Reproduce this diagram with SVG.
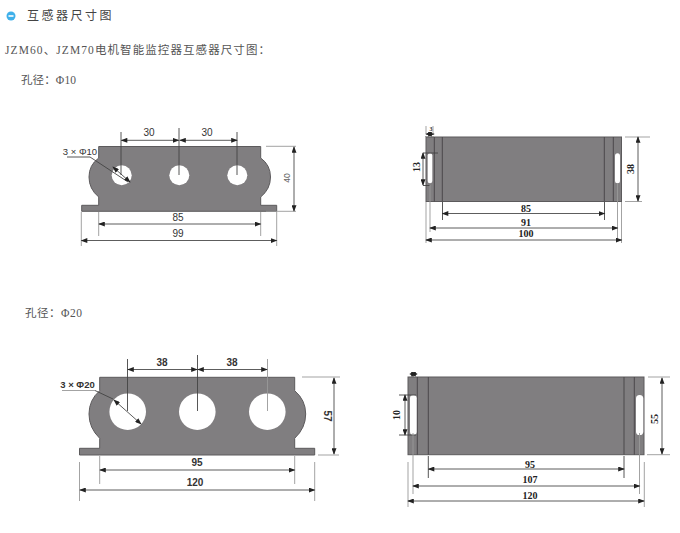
<svg xmlns="http://www.w3.org/2000/svg" width="680" height="533" viewBox="0 0 680 533">
<style>
.body{fill:#807e80;stroke:#5c5a5c;stroke-width:1}
.hole{fill:#fff}
.div{stroke:#4a484a;stroke-width:1;fill:none}
.dim{stroke:#333;stroke-width:.8;fill:none;marker-start:url(#a);marker-end:url(#a)}
.ext{stroke:#444;stroke-width:.9;fill:none}
.extl{stroke:#999;stroke-width:.9;fill:none}
.t{font-family:"Liberation Sans",Arial,sans-serif;font-size:10px;fill:#333;text-anchor:middle}
.b{font-weight:bold}
.s{font-family:"Liberation Serif",serif;font-size:10px;fill:#222;text-anchor:middle;font-weight:bold}
.h{font-family:"Liberation Sans","Noto Sans CJK SC",sans-serif;font-size:12px;fill:#444}
.c{font-family:"Liberation Serif","Noto Sans CJK SC",serif;font-size:11.5px;fill:#555}
</style>
<defs>
<marker id="a" viewBox="0 0 8 6" refX="7" refY="3" markerWidth="7" markerHeight="5" markerUnits="userSpaceOnUse" orient="auto-start-reverse"><path d="M0 0L8 3L0 6Z" fill="#222"/></marker>
</defs>
<g id="heading">
<circle cx="11" cy="16" r="4.5" fill="#3fb0ea"/><rect x="8.500" y="15" width="5" height="2" fill="#d8eefa"/>
<text class="h" x="27" y="20" letter-spacing="2.500">互感器尺寸图</text>
<text class="c" x="5" y="54" textLength="265" lengthAdjust="spacing">JZM60、JZM70电机智能监控器互感器尺寸图：</text>
<text class="c" x="21" y="84" textLength="55" lengthAdjust="spacing">孔径：Φ10</text>
<text class="c" x="25" y="317" textLength="57" lengthAdjust="spacing">孔径：Φ20</text>
</g>
<g id="front-10">
<path class="body" d="M98.700 146.500H260.700V158Q270.500 165 270.500 177T260.700 197V205.300H276.700V211.300H81.700V205.300H98.700V197Q89 189 89 177T98.700 158Z"/>
<circle class="hole" cx="121.700" cy="175.300" r="10"/><circle class="hole" cx="179.300" cy="175.300" r="10"/><circle class="hole" cx="237.300" cy="175.300" r="10"/>
<text class="t" x="149" y="136">30</text><text class="t" x="207" y="136">30</text>
<text class="t" x="80" y="155" style="font-size:9.500px">3 × Φ10</text>
<text class="t" x="178" y="221">85</text><text class="t" x="178" y="237">99</text>
<text class="t" transform="translate(290 178) rotate(-90)" style="font-size:8.500px;fill:#666">40</text>
</g>
<g id="side-10">
<rect class="body" x="426" y="137" width="195.500" height="64.500"/>
<path class="div" d="M434.300 137V201.500M442.300 137V201.500M604.300 137V201.500M613.300 137V201.500"/>
<rect class="hole" x="427.700" y="153.300" width="4.600" height="30" rx="2.300"/><rect class="hole" x="615" y="153.300" width="5" height="30" rx="2.500"/>
<text class="s" transform="translate(420 167) rotate(-90)">13</text>
<text class="s" transform="translate(634 169) rotate(-90)">38</text>
<text class="s" x="526" y="212">85</text><text class="s" x="526" y="226">91</text><text class="s" x="526" y="237">100</text>
<text class="s" x="431" y="131" style="font-size:6px">3</text>
</g>
<g id="front-20">
<path class="body" d="M99.700 377.300H294.700V390.700Q305.700 400 305.700 414T294.700 438.300V448.300H314.700V455H79.500V448.300H99.700V438.300Q89 428 89 414T99.700 390.700Z"/>
<circle class="hole" cx="127.700" cy="411.700" r="18.300"/><circle class="hole" cx="197.300" cy="411.700" r="18.300"/><circle class="hole" cx="267.300" cy="411.700" r="18.300"/>
<text class="t b" x="162" y="366">38</text><text class="t b" x="232" y="366">38</text>
<text class="t b" x="77.500" y="388" style="font-size:9.500px">3 × Φ20</text>
<text class="t b" x="197" y="466">95</text><text class="t b" x="195" y="486">120</text>
<text class="t b" transform="translate(324 416) rotate(90)">57</text>
</g>
<g id="side-20">
<rect class="body" x="408" y="377" width="236" height="77.700"/>
<path class="div" d="M417.300 377V454.700M428.300 377V454.700M624 377V454.700M634.300 377V454.700"/>
<rect class="hole" x="410" y="395" width="6.700" height="40" rx="3.300"/><rect class="hole" x="636" y="395" width="7.300" height="40" rx="3.600"/>
<text class="s" transform="translate(400 415) rotate(-90)">10</text>
<text class="s" transform="translate(658 419) rotate(-90)">55</text>
<text class="s" x="530" y="468">95</text><text class="s" x="530" y="483">107</text><text class="s" x="530" y="499">120</text>
</g>
<g id="connectors">
<path class="ext" d="M121 132V175M179 128V175M237 132V175"/>
<path class="dim" d="M121.500 140.300H178.500"/><path class="dim" d="M180 140.300H237"/>
<path class="ext" d="M67 157H90L128 182"/><path class="dim" d="M113 167L130 182"/>
<path class="extl" d="M266 146.300H296M266 211.300H296"/><path class="dim" d="M294 147V211"/>
<path class="extl" d="M81.300 212V246M98.700 212V236M260.700 212V236M276.700 212V246"/>
<path class="dim" d="M99 224H260.500"/><path class="dim" d="M81.500 240.500H276.500"/>

<path class="ext" d="M423 153H438M423 185.500H430"/><path class="dim" d="M423 153V185"/>
<path class="extl" d="M425 136.500H434"/><path class="dim" d="M426 134H434"/><path class="extl" d="M426 126V134M433 126V134"/>
<path class="extl" d="M625 137H650M625 201.500H642"/><path class="dim" d="M638 137V201"/>
<path class="ext" d="M442.500 202V220M604.500 202V220"/><path class="extl" d="M430 185V232M617.500 183V240M426 202V243M621.500 202V243"/>
<path class="dim" d="M442.500 213.500H604.500"/><path class="dim" d="M430 228H617.500"/><path class="dim" d="M426 240H621.500"/>

<path class="ext" d="M127.500 359V411M197.500 355V411"/><path class="extl" d="M267.500 359V411"/>
<path class="dim" d="M128 369.500H197"/><path class="dim" d="M198 369.500H267"/>
<path class="extl" d="M62 390.500H95"/><path class="ext" d="M95 390.500L113 399"/><path class="dim" d="M114 400L141 424"/>
<path class="extl" d="M302 377H340M318 455H339"/><path class="dim" d="M334 378V454"/>
<path class="extl" d="M99.700 456V484M294.700 456V484M79.500 462V501M314.700 462V501"/>
<path class="dim" d="M100 470H294.500"/><path class="dim" d="M80 490H314.500"/>

<path class="ext" d="M399 395H416M399 435H416M413 372V377"/><path class="dim" d="M405 395V435"/>
<path class="dim" d="M410 374H417"/>
<path class="extl" d="M648 377H670M647 454.700H670"/><path class="dim" d="M662 378V454"/>
<path class="ext" d="M428.300 456V478M624 456V478"/><path class="extl" d="M413 433V494M639.500 433V494M408 462V507M644.300 462V507"/>
<path class="dim" d="M428.500 469H624"/><path class="dim" d="M413 486H639.500"/><path class="dim" d="M408 501H644"/>
</g>
</svg>
